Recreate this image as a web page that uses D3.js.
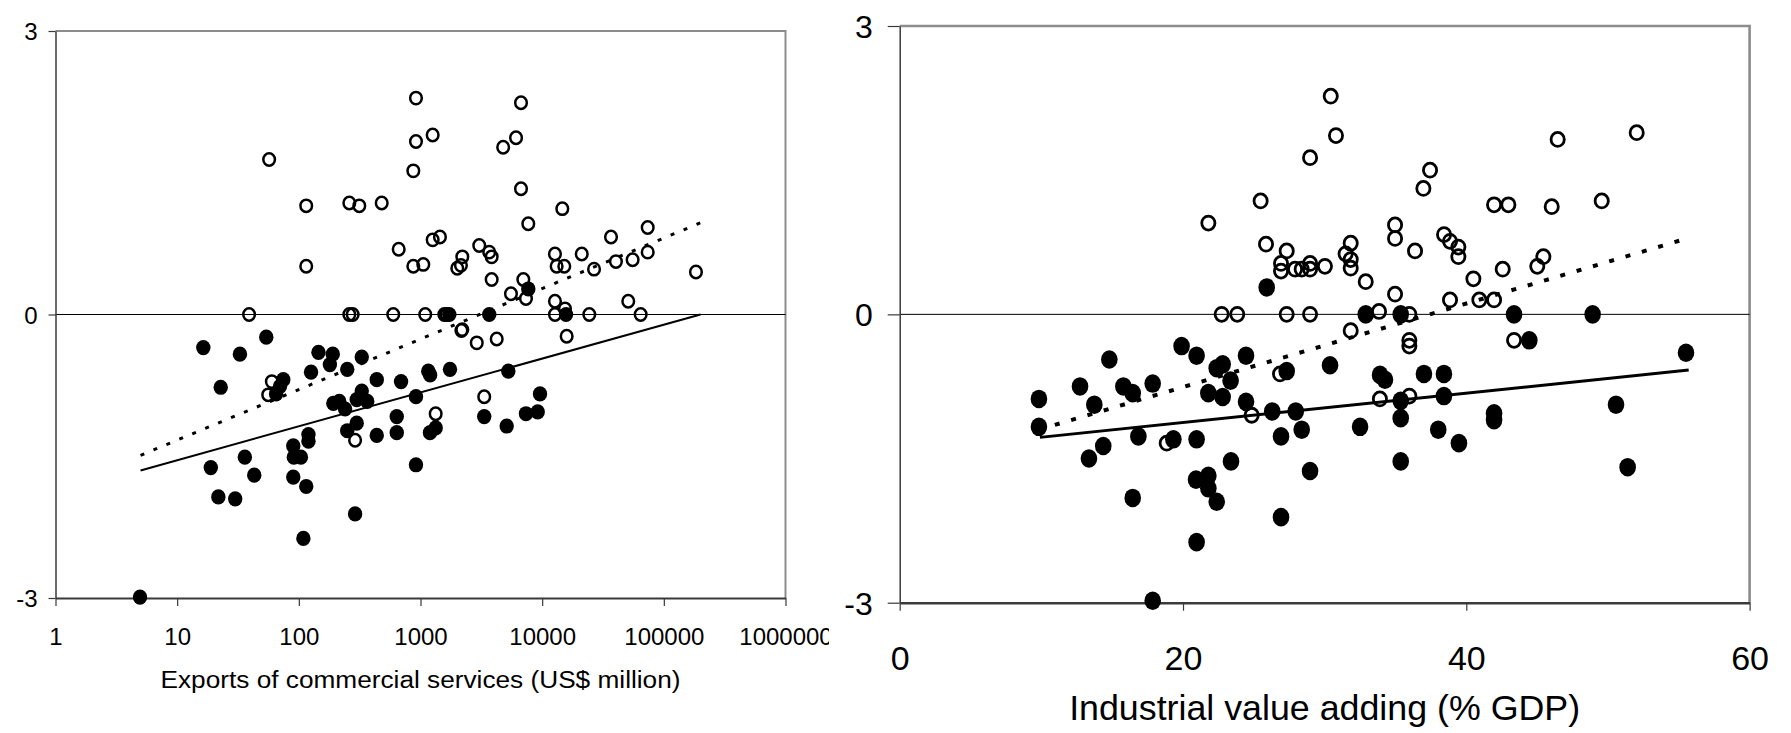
<!DOCTYPE html>
<html lang="en">
<head>
<meta charset="UTF-8" />
<title>Exports of services and industrial value adding</title>
<script src="https://d3js.org/d3.v7.min.js"></script>
<style>
  body { margin: 0; background: #fff; }
  svg { display: block; font-family: "Liberation Sans", Arial, sans-serif; }
  .frame { fill: none; stroke: #8c8c8c; stroke-width: 2; }
  .axis path, .axis line { stroke: #3a3a3a; }
  .axis text { fill: #000; }
  .zero { stroke: #000; stroke-width: 1; }
</style>
</head>
<body>
<svg id="chart" width="1791" height="733"></svg>
<script>
  // ---- data ----
  // left panel: x = exports of commercial services (US$ million), y = index
  const servicesOpen = [
    [918, 2.29], [1259, 1.90], [918, 1.83], [873, 1.52], [57, 1.64], [115, 1.15], [260, 1.18],
    [314, 1.15], [480, 1.18], [115, 0.51], [662, 0.69], [1259, 0.79], [1445, 0.82], [873, 0.51],
    [1054, 0.53], [2206, 0.61], [2006, 0.49], [2150, 0.52], [39, 0], [260, 0], [277, 0], [597, 0],
    [1094, 0], [1570, 0], [2206, -0.16], [6700, 2.24], [6100, 1.87], [4780, 1.77], [6700, 1.33],
    [14640, 1.12], [7690, 0.96], [3040, 0.73], [3674, 0.66], [3845, 0.61], [3845, 0.37], [7000, 0.37],
    [5540, 0.22], [7360, 0.17], [12740, 0.64], [13150, 0.51], [15200, 0.51], [21150, 0.64],
    [26700, 0.48], [36800, 0.82], [40400, 0.56], [55400, 0.58], [73700, 0.92], [73700, 0.66],
    [183700, 0.45], [12740, 0.14], [51000, 0.14], [1640, 0], [12740, 0], [15400, 0.06], [24400, 0],
    [64500, 0], [2170, -0.17], [4230, -0.26], [2900, -0.30], [15900, -0.23], [3340, -0.87],
    [60, -0.71], [56, -0.85], [290, -1.33], [1333, -1.05]
  ];
  const servicesFilled = [
    [1725, 0], [3674, 0], [7690, 0.27], [15700, 0], [54, -0.24], [16.4, -0.35], [32.8, -0.42],
    [22.8, -0.77], [74.5, -0.69], [70, -0.76], [65, -0.84], [126, -0.61], [145, -0.40], [190, -0.42],
    [180, -0.53], [250, -0.58], [329, -0.45], [437, -0.69], [692, -0.71], [1159, -0.60], [1200, -0.64],
    [1747, -0.58], [5270, -0.60], [918, -0.87], [329, -0.81], [299, -0.90], [365, -0.92], [192, -0.94],
    [215, -0.92], [240, -1.00], [638, -1.08], [299, -1.15], [250, -1.23], [437, -1.28], [638, -1.25],
    [1333, -1.20], [1197, -1.25], [120, -1.27], [120, -1.34], [90, -1.39], [91, -1.51], [104, -1.51],
    [90, -1.72], [115, -1.82], [36, -1.51], [43, -1.70], [18.9, -1.62], [21.8, -1.93], [30, -1.95],
    [290, -2.11], [109, -2.37], [4.95, -2.99], [918, -1.59], [9600, -0.84], [9190, -1.03],
    [7360, -1.05], [3340, -1.08], [5110, -1.18]
  ];
  const servicesTrendOpen = [[5, -1.49], [200000, 0.97]];
  const servicesTrendFilled = [[5, -1.65], [200000, 0]];
  const servicesTicks = [1, 10, 100, 1000, 10000, 100000, 1000000];

  // right panel: x = industrial value adding (% GDP), y = index
  const industryOpen = [
    [30.43, 2.27], [30.80, 1.86], [28.97, 1.63], [25.48, 1.18], [21.79, 0.95], [25.86, 0.73],
    [27.32, 0.66], [26.92, 0.53], [26.92, 0.45], [27.91, 0.47], [28.38, 0.47], [28.97, 0.53],
    [28.97, 0.47], [30.02, 0.50], [31.84, 0.74], [31.48, 0.63], [31.84, 0.57], [31.84, 0.48],
    [32.90, 0.34], [22.73, 0], [23.83, 0], [27.32, 0], [28.97, 0], [33.84, 0.03], [31.84, -0.17],
    [52.03, 1.89], [46.45, 1.82], [37.44, 1.50], [36.97, 1.31], [41.96, 1.14], [42.97, 1.14],
    [46.03, 1.12], [49.56, 1.18], [34.97, 0.93], [34.97, 0.79], [36.38, 0.66], [38.43, 0.83],
    [38.85, 0.76], [39.44, 0.70], [39.44, 0.60], [40.50, 0.37], [42.57, 0.47], [45.44, 0.60],
    [45.01, 0.50], [34.97, 0.21], [38.85, 0.15], [40.92, 0.15], [41.96, 0.15], [35.98, 0],
    [35.98, -0.27], [35.98, -0.33], [43.37, -0.27], [33.9, -0.88], [35.98, -0.85], [26.85, -0.62],
    [24.85, -1.05], [18.85, -1.34]
  ];
  const industryFilled = [
    [25.91, 0.28], [32.90, 0], [35.37, 0], [43.37, 0], [48.92, 0], [44.45, -0.27], [55.51, -0.40],
    [33.91, -0.63], [34.26, -0.68], [37.01, -0.62], [38.42, -0.62], [35.37, -0.90], [38.42, -0.85],
    [35.37, -1.08], [41.96, -1.03], [41.96, -1.10], [38.02, -1.20], [39.48, -1.34], [50.57, -0.94],
    [35.37, -1.53], [51.39, -1.59], [19.90, -0.33], [20.96, -0.43], [14.80, -0.47], [24.45, -0.43],
    [30.38, -0.53], [22.38, -0.56], [22.80, -0.52], [23.36, -0.69], [27.32, -0.59], [12.73, -0.75],
    [15.79, -0.75], [16.45, -0.82], [17.86, -0.72], [13.74, -0.94], [9.83, -0.88], [9.83, -1.17],
    [21.79, -0.82], [22.80, -0.86], [24.45, -0.91], [26.30, -1.01], [27.96, -1.01], [26.92, -1.27],
    [28.38, -1.20], [32.50, -1.17], [16.85, -1.27], [14.37, -1.37], [13.36, -1.50], [19.32, -1.30],
    [20.96, -1.30], [23.39, -1.53], [28.97, -1.63], [20.92, -1.72], [21.79, -1.68], [21.79, -1.81],
    [22.38, -1.95], [16.45, -1.91], [26.92, -2.11], [20.96, -2.37], [17.86, -2.98]
  ];
  const industryTrendOpen = [[9.8, -1.2], [55.6, 0.79]];
  const industryTrendFilled = [[9.9, -1.28], [55.7, -0.58]];
  const industryTicks = [0, 20, 40, 60];

  const indexTicks = [-3, 0, 3];

  const svg = d3.select("#chart");
  const plain = d => String(d); // keeps the ascii hyphen in "-3"

  function drawPanel(opt) {
    const g = svg.append("g");
    if (opt.clip) {
      svg.append("clipPath").attr("id", opt.clip.id)
        .append("rect").attr("x", 0).attr("y", 0).attr("width", opt.clip.w).attr("height", 733);
      g.attr("clip-path", `url(#${opt.clip.id})`);
    }
    const x = opt.x, y = opt.y;
    const [x0, x1] = x.range();
    const [yb, yt] = y.range();

    // top + right border
    g.append("path").attr("class", "frame")
      .attr("d", `M${x0},${yt}H${x1}V${yb}`)
      .style("stroke-width", opt.frameW);

    // zero line
    g.append("line").attr("class", "zero")
      .attr("x1", x0).attr("x2", x1).attr("y1", y(0)).attr("y2", y(0));

    // y axis
    const ya = g.append("g").attr("class", "axis")
      .attr("transform", `translate(${x0},0)`)
      .call(d3.axisLeft(y).tickValues(indexTicks).tickSize(opt.yTick).tickSizeOuter(0)
        .tickPadding(opt.yPad).tickFormat(plain));
    ya.select(".domain").style("stroke-width", 1.5);
    ya.selectAll("line").style("stroke-width", 1.2);
    ya.selectAll("text").style("font-size", opt.yFont + "px").attr("dy", "0.36em");

    // x axis
    const xa = g.append("g").attr("class", "axis")
      .attr("transform", `translate(0,${yb})`)
      .call(d3.axisBottom(x).tickValues(opt.ticks).tickSize(8).tickSizeOuter(0)
        .tickFormat(plain));
    xa.select(".domain").style("stroke-width", opt.baseW);
    xa.selectAll("line").style("stroke-width", 1.2);
    xa.selectAll("text").style("font-size", opt.xFont + "px")
      .attr("y", opt.xLabelY).attr("dy", 0);

    // axis title
    g.append("text")
      .attr("x", (x0 + x1) / 2).attr("y", opt.titleY)
      .attr("text-anchor", "middle")
      .attr("textLength", opt.titleLen).attr("lengthAdjust", "spacingAndGlyphs")
      .style("font-size", opt.titleFont + "px")
      .text(opt.title);

    // trend lines
    const line = d3.line().x(d => x(d[0])).y(d => y(d[1]));
    g.append("path").datum(opt.trendFilled).attr("d", line)
      .attr("fill", "none").attr("stroke", "#000").attr("stroke-width", opt.solidW);
    g.append("path").datum(opt.trendOpen).attr("d", line)
      .attr("fill", "none").attr("stroke", "#000").attr("stroke-width", opt.dotW)
      .attr("stroke-dasharray", opt.dash);

    // markers
    g.append("g").selectAll("ellipse").data(opt.open).join("ellipse")
      .attr("cx", d => x(d[0])).attr("cy", d => y(d[1]))
      .attr("rx", opt.openR[0]).attr("ry", opt.openR[1])
      .attr("fill", "none").attr("stroke", "#000").attr("stroke-width", opt.openW);
    g.append("g").selectAll("ellipse").data(opt.filled).join("ellipse")
      .attr("cx", d => x(d[0])).attr("cy", d => y(d[1]))
      .attr("rx", opt.filledR[0]).attr("ry", opt.filledR[1])
      .attr("fill", "#000");
  }

  drawPanel({
    x: d3.scaleLog().domain([1, 1000000]).range([55.5, 785.5]),
    y: d3.scaleLinear().domain([-3, 3]).range([598, 31]),
    clip: { id: "clipLeft", w: 829 },
    ticks: servicesTicks,
    frameW: 2, baseW: 2,
    yTick: 7, yPad: 11, yFont: 24,
    xFont: 24, xLabelY: 47,
    title: "Exports of commercial services (US$ million)",
    titleY: 688, titleFont: 23, titleLen: 520,
    trendOpen: servicesTrendOpen, trendFilled: servicesTrendFilled,
    solidW: 2, dotW: 3, dash: "4,10",
    open: servicesOpen, filled: servicesFilled,
    openR: [5.8, 6.2], openW: 2.5, filledR: [7.2, 7.6]
  });

  drawPanel({
    x: d3.scaleLinear().domain([0, 60]).range([899.7, 1749.6]),
    y: d3.scaleLinear().domain([-3, 3]).range([602.7, 26]),
    ticks: industryTicks,
    frameW: 2.6, baseW: 2.6,
    yTick: 12, yPad: 15, yFont: 32,
    xFont: 34, xLabelY: 67,
    title: "Industrial value adding (% GDP)",
    titleY: 720, titleFont: 35, titleLen: 511,
    trendOpen: industryTrendOpen, trendFilled: industryTrendFilled,
    solidW: 3, dotW: 4, dash: "5,12",
    open: industryOpen, filled: industryFilled,
    openR: [6.6, 7], openW: 2.8, filledR: [8.3, 9.3]
  });
</script>
</body>
</html>
